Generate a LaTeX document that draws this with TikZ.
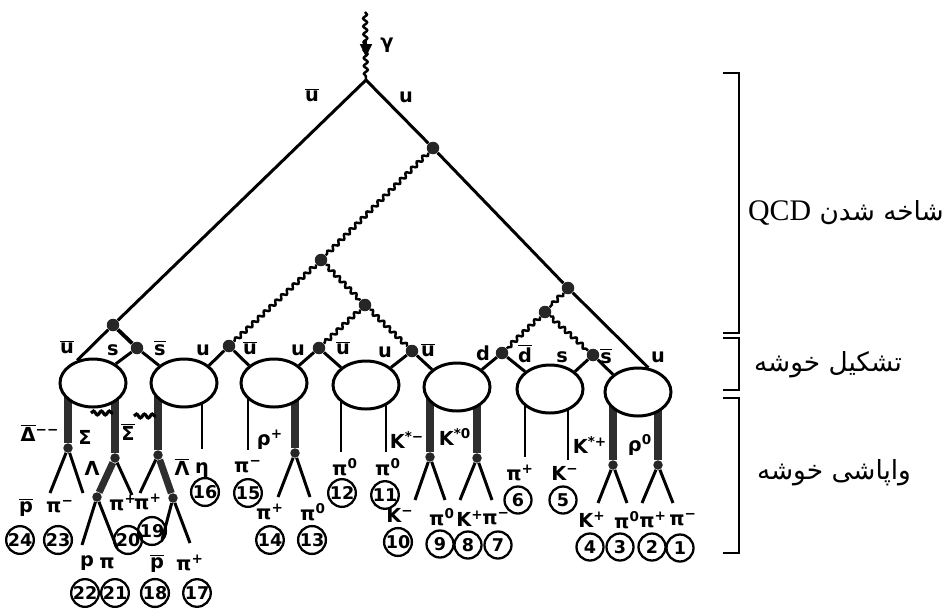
\documentclass[tikz,border=0pt]{standalone}
\usepackage{fontspec}
\setmainfont{DejaVu Sans}
\newfontfamily\persianfont[Script=Arabic]{DejaVu Sans}
\newfontfamily\qcdfont{Liberation Serif}
\usetikzlibrary{decorations.pathmorphing,arrows.meta,backgrounds,shapes.geometric}
\TeXXeTstate=1
\newcommand{\ovl}[1]{$\overline{\mbox{#1}}$}
\newcommand{\sps}[1]{\textsuperscript{#1}}

\tikzset{
  quark/.style={line width=1.7pt},
  reson/.style={line width=4pt, draw=black!82},
  wavy/.style={line width=1.4pt, decorate, decoration={snake, amplitude=1.1pt, segment length=4.5pt}},
  blob/.style={ellipse, draw, line width=1.7pt, fill=white, minimum width=13.2mm, minimum height=9.6mm, inner sep=0pt},
  vtx/.style={circle, fill=black!85, inner sep=0pt, minimum size=2.5mm},
  dvtx/.style={circle, fill=black!85, inner sep=0pt, minimum size=1.9mm},
  lab/.style={font=\bfseries\fontsize{11}{13}\selectfont, inner sep=0pt},
  num/.style={circle, draw, line width=1.3pt, inner sep=0pt, minimum size=5.4mm, font=\bfseries\fontsize{10}{12}\selectfont},
  side/.style={font=\fontsize{15}{18}\selectfont, inner sep=0pt},
  brace/.style={line width=1.2pt}
}

\begin{document}
\begin{tikzpicture}[x=0.2mm, y=-0.2mm]

        \useasboundingbox (0,0) rectangle (949,611);

        %Clusters
        \node [blob] (e1) at  (93,383) {};
        \node [blob] (e2) at (184,383) {};
        \node [blob] (e3) at (274,383) {};
        \node [blob] (e4) at (366,385) {};
        \node [blob] (e5) at (457,387) {};
        \node [blob] (e6) at (550,389) {};
        \node [blob] (e7) at (638,392) {};

        %Photon and primary quarks
        \coordinate       (gtop) at (365,12);
        \coordinate       (V0)   at (366,80);
        \coordinate       (arrA) at (366,40);
        \coordinate       (arrB) at (366,57);
        \node [vtx]  (G1) at (433,148) {};
        \node [vtx]  (G2) at (568,288) {};
        \node [vtx]  (VL) at (113,325) {};

        \draw [wavy]                 (gtop) -- (V0);
        \draw [line width=1pt, -{Triangle[length=2.6mm,width=2.4mm]}] (arrA) -- (arrB);
        \draw [quark, line join=round] (e1.125) -- (VL) -- (V0) -- (G1) -- (G2) -- (e7.67);

        \node [lab] (lgam) at (387,45) {γ};
        \node [lab] (lub)  at (312,95) {\ovl{u}};
        \node [lab] (lu)   at (406,97) {u};

        %Gluon cascade
        \node [vtx]  (G3) at (321,260) {};
        \node [vtx]  (G4) at (365,305) {};
        \node [vtx]  (G5) at (545,312) {};
        \node [vtx]  (Vs) at (137,348) {};
        \node [vtx]  (Q1) at (229,346) {};
        \node [vtx]  (Q2) at (319,348) {};
        \node [vtx]  (Q3) at (412,351) {};
        \node [vtx]  (Q4) at (502,353) {};
        \node [vtx]  (Q5) at (593,355) {};

        \draw [wavy]   (G1) -- (G3);
        \draw [wavy]   (G3) -- (Q1);
        \draw [wavy]   (G3) -- (G4);
        \draw [wavy]   (G4) -- (Q2);
        \draw [wavy]   (G4) -- (Q3);
        \draw [wavy]   (G2) -- (G5);
        \draw [wavy]   (G5) -- (Q4);
        \draw [wavy]   (G5) -- (Q5);
        \draw [quark, line width=2.2pt]  (VL) -- (Vs);

        %Quarks into clusters
        \draw [quark]  (Vs) -- (e1.40);
        \draw [quark]  (Vs) -- (e2.145);
        \draw [quark]  (Q1) -- (e2.35);
        \draw [quark]  (Q1) -- (e3.145);
        \draw [quark]  (Q2) -- (e3.35);
        \draw [quark]  (Q2) -- (e4.145);
        \draw [quark]  (Q3) -- (e4.35);
        \draw [quark]  (Q3) -- (e5.145);
        \draw [quark]  (Q4) -- (e5.35);
        \draw [quark]  (Q4) -- (e6.145);
        \draw [quark]  (Q5) -- (e6.35);
        \draw [quark]  (Q5) -- (e7.145);

        \node [lab] (q1)  at  (67,347) {\ovl{u}};
        \node [lab] (q2)  at (113,350) {s};
        \node [lab] (q3)  at (160,348) {\ovl{s}};
        \node [lab] (q4)  at (203,350) {u};
        \node [lab] (q5)  at (250,348) {\ovl{u}};
        \node [lab] (q6)  at (298,350) {u};
        \node [lab] (q7)  at (343,348) {\ovl{u}};
        \node [lab] (q8)  at (385,352) {u};
        \node [lab] (q9)  at (428,350) {\ovl{u}};
        \node [lab] (q10) at (483,353) {d};
        \node [lab] (q11) at (525,354) {\ovl{d}};
        \node [lab] (q12) at (562,357) {s};
        \node [lab] (q13) at (606,356) {\ovl{s}};
        \node [lab] (q14) at (658,357) {u};

        %Resonance vertices
        \node [dvtx] (vDelta)   at  (68,448) {};
        \node [dvtx] (vSigma)   at (115,458) {};
        \node [dvtx] (vLambda)  at  (97,497) {};
        \node [dvtx] (vSigmab)  at (158,455) {};
        \node [dvtx] (vLambdab) at (173,498) {};
        \node [dvtx] (vRhop)    at (295,453) {};
        \node [dvtx] (vKsm)     at (430,457) {};
        \node [dvtx] (vKsz)     at (477,458) {};
        \node [dvtx] (vKsp)     at (613,465) {};
        \node [dvtx] (vRhoz)    at (658,465) {};

        %Line ends of final hadrons
        \coordinate (p24) at  (50,493);
        \coordinate (p23) at  (83,493);
        \coordinate (p22) at  (82,545);
        \coordinate (p21) at (117,548);
        \coordinate (p20) at (132,495);
        \coordinate (p19) at (140,493);
        \coordinate (p18) at (162,540);
        \coordinate (p17) at (190,543);
        \coordinate (p16) at (202,449);
        \coordinate (p15) at (248,450);
        \coordinate (p14) at (278,497);
        \coordinate (p13) at (310,497);
        \coordinate (p12) at (341,452);
        \coordinate (p11) at (386,452);
        \coordinate (p10) at (415,500);
        \coordinate  (p9) at (445,500);
        \coordinate  (p8) at (460,500);
        \coordinate  (p7) at (492,500);
        \coordinate  (p6) at (525,457);
        \coordinate  (p5) at (568,460);
        \coordinate  (p4) at (598,503);
        \coordinate  (p3) at (627,503);
        \coordinate  (p2) at (642,503);
        \coordinate  (p1) at (673,503);

        %Stems out of clusters
        \begin{pgfonlayer}{background}
        \draw [reson]  (vDelta |- e1)   -- (vDelta);
        \draw [reson]  (vSigma |- e1)   -- (vSigma);
        \draw [reson]  (vSigmab |- e2)  -- (vSigmab);
        \draw [quark]  (p16 |- e2)      -- (p16);
        \draw [quark]  (p15 |- e3)      -- (p15);
        \draw [reson]  (vRhop |- e3)    -- (vRhop);
        \draw [quark]  (p12 |- e4)      -- (p12);
        \draw [quark]  (p11 |- e4)      -- (p11);
        \draw [reson]  (vKsm |- e5)     -- (vKsm);
        \draw [reson]  (vKsz |- e5)     -- (vKsz);
        \draw [quark]  (p6 |- e6)       -- (p6);
        \draw [quark]  (p5 |- e6)       -- (p5);
        \draw [reson]  (vKsp |- e7)     -- (vKsp);
        \draw [reson]  (vRhoz |- e7)    -- (vRhoz);
        \end{pgfonlayer}

        %Decays
        \draw [quark]  (vDelta)   -- (p24);
        \draw [quark]  (vDelta)   -- (p23);
        \draw [reson]  (vSigma)   -- (vLambda);
        \draw [quark]  (vSigma)   -- (p20);
        \draw [quark]  (vLambda)  -- (p22);
        \draw [quark]  (vLambda)  -- (p21);
        \draw [quark]  (vSigmab)  -- (p19);
        \draw [reson]  (vSigmab)  -- (vLambdab);
        \draw [quark]  (vLambdab) -- (p18);
        \draw [quark]  (vLambdab) -- (p17);
        \draw [quark]  (vRhop)    -- (p14);
        \draw [quark]  (vRhop)    -- (p13);
        \draw [quark]  (vKsm)     -- (p10);
        \draw [quark]  (vKsm)     -- (p9);
        \draw [quark]  (vKsz)     -- (p8);
        \draw [quark]  (vKsz)     -- (p7);
        \draw [quark]  (vKsp)     -- (p4);
        \draw [quark]  (vKsp)     -- (p3);
        \draw [quark]  (vRhoz)    -- (p2);
        \draw [quark]  (vRhoz)    -- (p1);

        %Photons of the Sigma decays
        \coordinate (ga1) at  (91,413);
        \coordinate (ga2) at (113,413);
        \coordinate (gb1) at (134,416);
        \coordinate (gb2) at (156,416);
        \draw [wavy, line width=1.8pt]  (ga1) -- (ga2);
        \draw [wavy, line width=1.8pt]  (gb1) -- (gb2);

        %Resonance labels
        \node [lab] (rDelta)   at  (40,433) {\ovl{Δ}\sps{−−}};
        \node [lab] (rSigma)   at  (85,437) {Σ};
        \node [lab] (rSigmab)  at (128,432) {\ovl{Σ}};
        \node [lab] (rLambda)  at  (92,468) {Λ};
        \node [lab] (rLambdab) at (182,467) {\ovl{Λ}};
        \node [lab] (rRhop)    at (270,440) {ρ\sps{+}};
        \node [lab] (rKsm)     at (407,440) {K\sps{*−}};
        \node [lab] (rKsz)     at (455,437) {K\sps{*0}};
        \node [lab] (rKsp)     at (590,445) {K\sps{*+}};
        \node [lab] (rRhoz)    at (640,445) {ρ\sps{0}};

        %Final hadrons
        \node [lab] (l24) at  (26,507) {\ovl{p}};
        \node [lab] (l23) at  (60,507) {π\sps{−}};
        \node [lab] (l22) at  (87,563) {p};
        \node [lab] (l21) at (107,563) {π};
        \node [lab] (l20) at (123,503) {π\sps{+}};
        \node [lab] (l19) at (148,502) {π\sps{+}};
        \node [lab] (l18) at (157,563) {\ovl{p}};
        \node [lab] (l17) at (190,563) {π\sps{+}};
        \node [lab] (l16) at (202,470) {η};
        \node [lab] (l15) at (248,467) {π\sps{−}};
        \node [lab] (l14) at (270,512) {π\sps{+}};
        \node [lab] (l13) at (313,512) {π\sps{0}};
        \node [lab] (l12) at (345,467) {π\sps{0}};
        \node [lab] (l11) at (388,467) {π\sps{0}};
        \node [lab] (l10) at (400,515) {K\sps{−}};
        \node [lab]  (l9) at (442,517) {π\sps{0}};
        \node [lab]  (l8) at (470,519) {K\sps{+}};
        \node [lab]  (l7) at (496,519) {π\sps{−}};
        \node [lab]  (l6) at (520,473) {π\sps{+}};
        \node [lab]  (l5) at (565,473) {K\sps{−}};
        \node [lab]  (l4) at (592,520) {K\sps{+}};
        \node [lab]  (l3) at (627,520) {π\sps{0}};
        \node [lab]  (l2) at (653,520) {π\sps{+}};
        \node [lab]  (l1) at (683,520) {π\sps{−}};

        \node [num] (c24) at  (20,540) {24};
        \node [num] (c23) at  (58,540) {23};
        \node [num] (c22) at  (85,593) {22};
        \node [num] (c21) at (115,593) {21};
        \node [num] (c20) at (128,540) {20};
        \node [num] (c19) at (152,531) {19};
        \node [num] (c18) at (155,593) {18};
        \node [num] (c17) at (197,593) {17};
        \node [num] (c16) at (205,492) {16};
        \node [num] (c15) at (248,493) {15};
        \node [num] (c14) at (270,540) {14};
        \node [num] (c13) at (312,540) {13};
        \node [num] (c12) at (342,493) {12};
        \node [num] (c11) at (385,495) {11};
        \node [num] (c10) at (398,542) {10};
        \node [num]  (c9) at (440,544) {9};
        \node [num]  (c8) at (468,545) {8};
        \node [num]  (c7) at (498,545) {7};
        \node [num]  (c6) at (518,500) {6};
        \node [num]  (c5) at (563,500) {5};
        \node [num]  (c4) at (590,547) {4};
        \node [num]  (c3) at (620,547) {3};
        \node [num]  (c2) at (652,547) {2};
        \node [num]  (c1) at (680,548) {1};

        %Stages
        \draw [brace]  (723,73)  -- (739,73)  -- (739,333) -- (723,333);
        \draw [brace]  (723,338) -- (739,338) -- (739,390) -- (723,390);
        \draw [brace]  (723,398) -- (739,398) -- (739,553) -- (723,553);

        \node [side] (sBranch) at (846,213) {\persianfont\beginR شاخه شدن {\qcdfont\fontsize{17}{20}\selectfont\beginL QCD\endL}\endR};
        \node [side] (sForm)   at (828,365) {\persianfont\beginR تشکیل خوشه\endR};
        \node [side] (sDecay)  at (834,473) {\persianfont\beginR واپاشی خوشه\endR};

\end{tikzpicture}
\end{document}
